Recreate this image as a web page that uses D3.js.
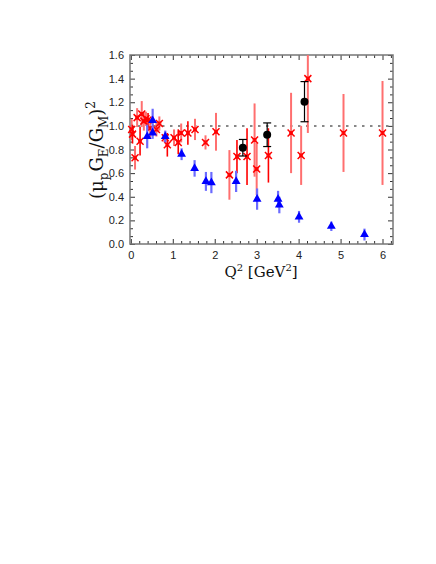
<!DOCTYPE html>
<html>
<head>
<meta charset="utf-8">
<script src="https://d3js.org/d3.v7.min.js"></script>
<style>
body { margin: 0; background: #fff; }
.tick text { font-family: "Liberation Sans", Arial, sans-serif; font-size: 11px; fill: #222; }
.tick line { stroke: #333; }
</style>
</head>
<body>
<script>
// polarization transfer (blue triangles)
var blueQ2  = [0.39, 0.52, 0.52, 0.82, 1.21, 1.52, 1.79, 1.92, 2.51, 3.01, 3.51, 3.54, 4.01, 4.78, 5.57];
var blueR   = [0.91, 1.045, 0.94, 0.91, 0.76, 0.64, 0.53, 0.52, 0.53, 0.38, 0.38, 0.33, 0.23, 0.15, 0.08];
var blueErr = [0.10, 0.10, 0.05, 0.05, 0.05, 0.07, 0.08, 0.09, 0.09, 0.09, 0.07, 0.07, 0.05, 0.04, 0.05];

// Rosenbluth, set A (bright red bars)
var redAQ2  = [0.04, 0.22, 0.41, 0.87, 1.13, 1.36, 2.53, 2.77, 3.28];
var redAR   = [0.93, 0.87, 1.05, 0.84, 0.86, 0.94, 0.74, 0.74, 0.75];
var redAErr = [0.08, 0.12, 0.06, 0.10, 0.10, 0.10, 0.14, 0.24, 0.23];

// Rosenbluth, set B (light red bars)
var redBQ2  = [0.02, 0.10, 0.15, 0.26, 0.31, 0.36, 0.46, 0.61, 0.68, 0.82, 1.03, 1.20, 1.53, 1.78, 2.03, 2.35, 2.95, 3.00, 3.82, 4.06, 4.22, 5.07, 6.00];
var redBR   = [0.97, 0.73, 1.07, 1.10, 1.04, 1.06, 0.98, 0.97, 1.02, 0.90, 0.90, 0.94, 0.97, 0.86, 0.95, 0.585, 0.88, 0.635, 0.94, 0.75, 1.40, 0.94, 0.94];
var redBErr = [0.09, 0.10, 0.08, 0.11, 0.08, 0.06, 0.08, 0.06, 0.06, 0.05, 0.07, 0.08, 0.09, 0.06, 0.16, 0.21, 0.31, 0.22, 0.34, 0.25, 0.46, 0.33, 0.44];

// new Rosenbluth (black circles)
var blackQ2  = [2.67, 3.25, 4.14];
var blackR   = [0.815, 0.925, 1.205];
var blackErr = [0.07, 0.10, 0.17];

var xMajor = [0, 1, 2, 3, 4, 5, 6];
var yMajor = [0, 0.2, 0.4, 0.6, 0.8, 1.0, 1.2, 1.4, 1.6];

var width = 436, height = 564;
var svg = d3.select("body").append("svg")
    .attr("width", width)
    .attr("height", height);

var x = d3.scaleLinear().domain([-0.02, 6.25]).range([130, 393]);
var y = d3.scaleLinear().domain([0, 1.6]).range([244, 55]);

var xMinor = d3.range(0, 6.25, 0.2).filter(function (v) { return Math.abs(v - Math.round(v)) > 1e-6; });
var yMinor = d3.range(0, 1.6, 0.2 / 3).filter(function (v) { return Math.abs(v * 5 - Math.round(v * 5)) > 1e-6; });

// axes (ticks inward on all sides)
function addAxis(axis, tx, ty) {
    var g = svg.append("g").attr("transform", "translate(" + tx + "," + ty + ")").call(axis);
    g.select(".domain").remove();
    return g;
}
addAxis(d3.axisBottom(x).tickValues(xMajor).tickSize(-5).tickPadding(7).tickFormat(d3.format("d")), 0, 244);
addAxis(d3.axisBottom(x).tickValues(xMinor).tickSize(-3).tickFormat(""), 0, 244);
addAxis(d3.axisTop(x).tickValues(xMajor).tickSize(-5).tickFormat(""), 0, 55);
addAxis(d3.axisTop(x).tickValues(xMinor).tickSize(-3).tickFormat(""), 0, 55);
addAxis(d3.axisLeft(y).tickValues(yMajor).tickSize(-5).tickPadding(6).tickFormat(d3.format(".1f")), 130, 0);
addAxis(d3.axisLeft(y).tickValues(yMinor).tickSize(-3).tickFormat(""), 130, 0);
addAxis(d3.axisRight(y).tickValues(yMajor).tickSize(-5).tickFormat(""), 393, 0);
addAxis(d3.axisRight(y).tickValues(yMinor).tickSize(-3).tickFormat(""), 393, 0);

// frame
svg.append("rect")
    .attr("x", 130).attr("y", 55)
    .attr("width", 263).attr("height", 189)
    .attr("fill", "none")
    .attr("stroke", "#777")
    .attr("stroke-width", 1.5);

// dotted reference line at 1
svg.append("line")
    .attr("x1", x(-0.02)).attr("x2", x(6.25))
    .attr("y1", y(1)).attr("y2", y(1))
    .attr("stroke", "#888")
    .attr("stroke-width", 2)
    .attr("stroke-dasharray", "2.5,5.5");

var plot = svg.append("g");

function bars(q, r, e, color, w) {
    plot.append("g").selectAll("line")
        .data(q).enter().append("line")
        .attr("x1", function (d) { return x(d); })
        .attr("x2", function (d) { return x(d); })
        .attr("y1", function (d, i) { return y(Math.min(1.6, r[i] + e[i])); })
        .attr("y2", function (d, i) { return y(r[i] - e[i]); })
        .attr("stroke", color)
        .attr("stroke-width", w);
}

function crosses(q, r) {
    var g = plot.append("g").selectAll("g")
        .data(q).enter().append("g")
        .attr("transform", function (d, i) { return "translate(" + x(d) + "," + y(r[i]) + ")"; });
    g.append("path")
        .attr("d", "M-3.5,-3.5L3.5,3.5M-3.5,3.5L3.5,-3.5")
        .attr("stroke", "#ff0000")
        .attr("stroke-width", 1.5);
    g.append("rect")
        .attr("x", -1.5).attr("y", -1.5).attr("width", 3).attr("height", 3)
        .attr("fill", "none").attr("stroke", "#ff0000").attr("stroke-width", 0.8);
}

// red sets
bars(redBQ2, redBR, redBErr, "#ff6f6f", 2);
bars(redAQ2, redAR, redAErr, "#ff0000", 1.6);
crosses(redBQ2, redBR);
crosses(redAQ2, redAR);

// blue triangles
bars(blueQ2, blueR, blueErr, "#6b6bff", 2.2);
plot.append("g").selectAll("path")
    .data(blueQ2).enter().append("path")
    .attr("d", d3.symbol().type(d3.symbolTriangle).size(34))
    .attr("transform", function (d, i) { return "translate(" + x(d) + "," + y(blueR[i]) + ")"; })
    .attr("fill", "#0000ff");

// black circles
bars(blackQ2, blackR, blackErr, "#000", 1.2);
var caps = plot.append("g");
blackQ2.forEach(function (d, i) {
    [blackR[i] + blackErr[i], blackR[i] - blackErr[i]].forEach(function (v) {
        caps.append("line")
            .attr("x1", x(d) - 4).attr("x2", x(d) + 4)
            .attr("y1", y(v)).attr("y2", y(v))
            .attr("stroke", "#000").attr("stroke-width", 1.2);
    });
});
plot.append("g").selectAll("circle")
    .data(blackQ2).enter().append("circle")
    .attr("cx", function (d) { return x(d); })
    .attr("cy", function (d, i) { return y(blackR[i]); })
    .attr("r", 4)
    .attr("fill", "#000");

// axis titles
svg.append("text")
    .attr("x", 261).attr("y", 277)
    .attr("text-anchor", "middle")
    .attr("font-family", "DejaVu Serif, serif")
    .attr("font-size", 15)
    .attr("fill", "#111")
    .html('Q<tspan font-size="10" dy="-6">2</tspan><tspan dy="6"> [GeV</tspan><tspan font-size="10" dy="-6">2</tspan><tspan dy="6">]</tspan>');

svg.append("text")
    .attr("transform", "translate(103,150) rotate(-90)")
    .attr("text-anchor", "middle")
    .attr("font-family", "DejaVu Serif, serif")
    .attr("font-size", 18)
    .attr("fill", "#111")
    .html('(μ<tspan font-size="12" dy="5">p</tspan><tspan dy="-5" dx="1">G</tspan><tspan font-size="12" dy="5">E</tspan><tspan dy="-5">/G</tspan><tspan font-size="12" dy="5">M</tspan><tspan dy="-5">)</tspan><tspan font-size="12" dy="-8">2</tspan>');
</script>
</body>
</html>
